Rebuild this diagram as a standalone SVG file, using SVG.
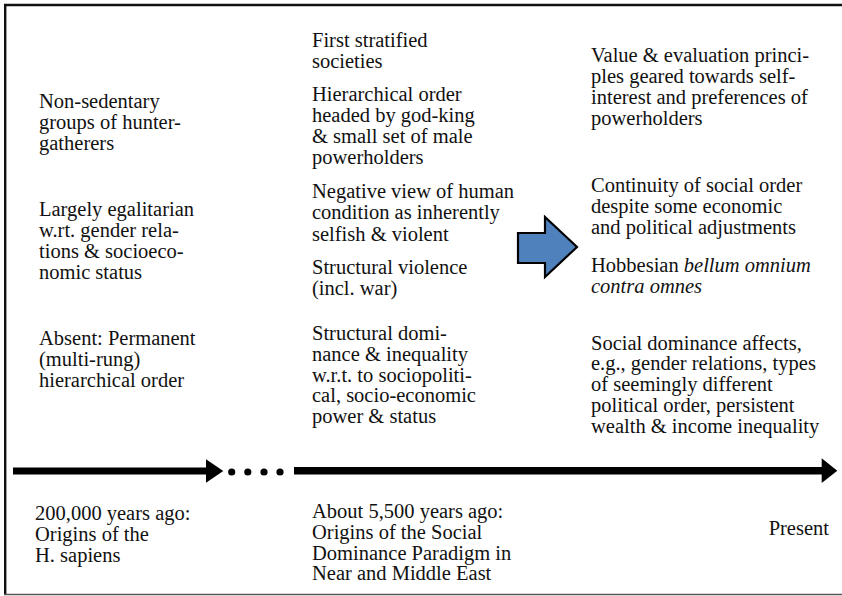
<svg xmlns="http://www.w3.org/2000/svg" width="842" height="596" viewBox="0 0 842 596">
<style>
.t{font-family:"Liberation Serif","Times New Roman",serif;font-size:20.5px;fill:#111}
.i{font-style:italic}
.frame{stroke:#111;fill:none}
.tl{fill:#000}
.blk{fill:#4f81bd;stroke:#000;stroke-width:2.2;stroke-linejoin:miter}
</style>
<rect width="842" height="596" fill="#fff"/>
<g id="frame">
<line class="frame" x1="842" y1="5" x2="4" y2="5" stroke-width="2.5"/>
<line class="frame" x1="5.2" y1="4" x2="5.2" y2="595" stroke-width="2.4"/>
<line class="frame" x1="4" y1="594.5" x2="842" y2="594.5" stroke-width="1.5" style="stroke:#555"/>
</g>
<g id="connectors">
<rect class="tl" x="13" y="467.5" width="195" height="7"/>
<polygon class="tl" points="206,459.3 223.3,471 206,482.7"/>
<circle class="tl" cx="231.7" cy="472" r="3.6"/>
<circle class="tl" cx="247.8" cy="472" r="3.6"/>
<circle class="tl" cx="264" cy="472" r="3.6"/>
<circle class="tl" cx="280" cy="472" r="3.6"/>
<rect class="tl" x="294" y="467" width="529" height="7.5"/>
<polygon class="tl" points="821.7,458.3 837.3,470.7 821.7,483"/>
<polygon class="blk" points="518,233 545,233 545,217 577,247 545,277 545,263 518,263"/>
</g>
<g id="n-hunters">
<text class="t" x="39" y="108">Non-sedentary</text>
<text class="t" x="39" y="129">groups of hunter-</text>
<text class="t" x="39" y="150">gatherers</text>
</g>
<g id="n-egalitarian">
<text class="t" x="39" y="216">Largely egalitarian</text>
<text class="t" x="39" y="237">w.rt. gender rela-</text>
<text class="t" x="39" y="258">tions &amp; socioeco-</text>
<text class="t" x="39" y="279">nomic status</text>
</g>
<g id="n-absent">
<text class="t" x="39" y="345">Absent: Permanent</text>
<text class="t" x="39" y="366">(multi-rung)</text>
<text class="t" x="39" y="387">hierarchical order</text>
</g>
<g id="n-200000">
<text class="t" x="35" y="520">200,000 years ago:</text>
<text class="t" x="35" y="541">Origins of the</text>
<text class="t" x="35" y="562">H. sapiens</text>
</g>
<g id="n-stratified">
<text class="t" x="312" y="47">First stratified</text>
<text class="t" x="312" y="68">societies</text>
</g>
<g id="n-hierarchical">
<text class="t" x="312" y="101">Hierarchical order</text>
<text class="t" x="312" y="122">headed by god-king</text>
<text class="t" x="312" y="143">&amp; small set of male</text>
<text class="t" x="312" y="164">powerholders</text>
</g>
<g id="n-negative">
<text class="t" x="312" y="198">Negative view of human</text>
<text class="t" x="312" y="219">condition as inherently</text>
<text class="t" x="312" y="240.5">selfish &amp; violent</text>
</g>
<g id="n-violence">
<text class="t" x="312" y="274">Structural violence</text>
<text class="t" x="312" y="295">(incl. war)</text>
</g>
<g id="n-dominance">
<text class="t" x="312" y="340">Structural domi-</text>
<text class="t" x="312" y="361">nance &amp; inequality</text>
<text class="t" x="312" y="381.5">w.r.t. to sociopoliti-</text>
<text class="t" x="312" y="402">cal, socio-economic</text>
<text class="t" x="312" y="423">power &amp; status</text>
</g>
<g id="n-5500">
<text class="t" x="312" y="517.5">About 5,500 years ago:</text>
<text class="t" x="312" y="538.5">Origins of the Social</text>
<text class="t" x="312" y="559.5">Dominance Paradigm in</text>
<text class="t" x="312" y="580">Near and Middle East</text>
</g>
<g id="n-values">
<text class="t" x="591" y="61.5">Value &amp; evaluation princi-</text>
<text class="t" x="591" y="83">ples geared towards self-</text>
<text class="t" x="591" y="104">interest and preferences of</text>
<text class="t" x="591" y="125">powerholders</text>
</g>
<g id="n-continuity">
<text class="t" x="591" y="191.5">Continuity of social order</text>
<text class="t" x="591" y="212.5">despite some economic</text>
<text class="t" x="591" y="233.5">and political adjustments</text>
</g>
<g id="n-hobbes">
<text class="t" x="591" y="271.5">Hobbesian <tspan class="i">bellum omnium</tspan></text>
<text class="t i" x="591" y="292.5">contra omnes</text>
</g>
<g id="n-social">
<text class="t" x="591" y="349.5">Social dominance affects,</text>
<text class="t" x="591" y="370">e.g., gender relations, types</text>
<text class="t" x="591" y="391">of seemingly different</text>
<text class="t" x="591" y="412">political order, persistent</text>
<text class="t" x="591" y="433">wealth &amp; income inequality</text>
</g>
<g id="n-present">
<text class="t" x="829" y="535" text-anchor="end">Present</text>
</g>
</svg>
